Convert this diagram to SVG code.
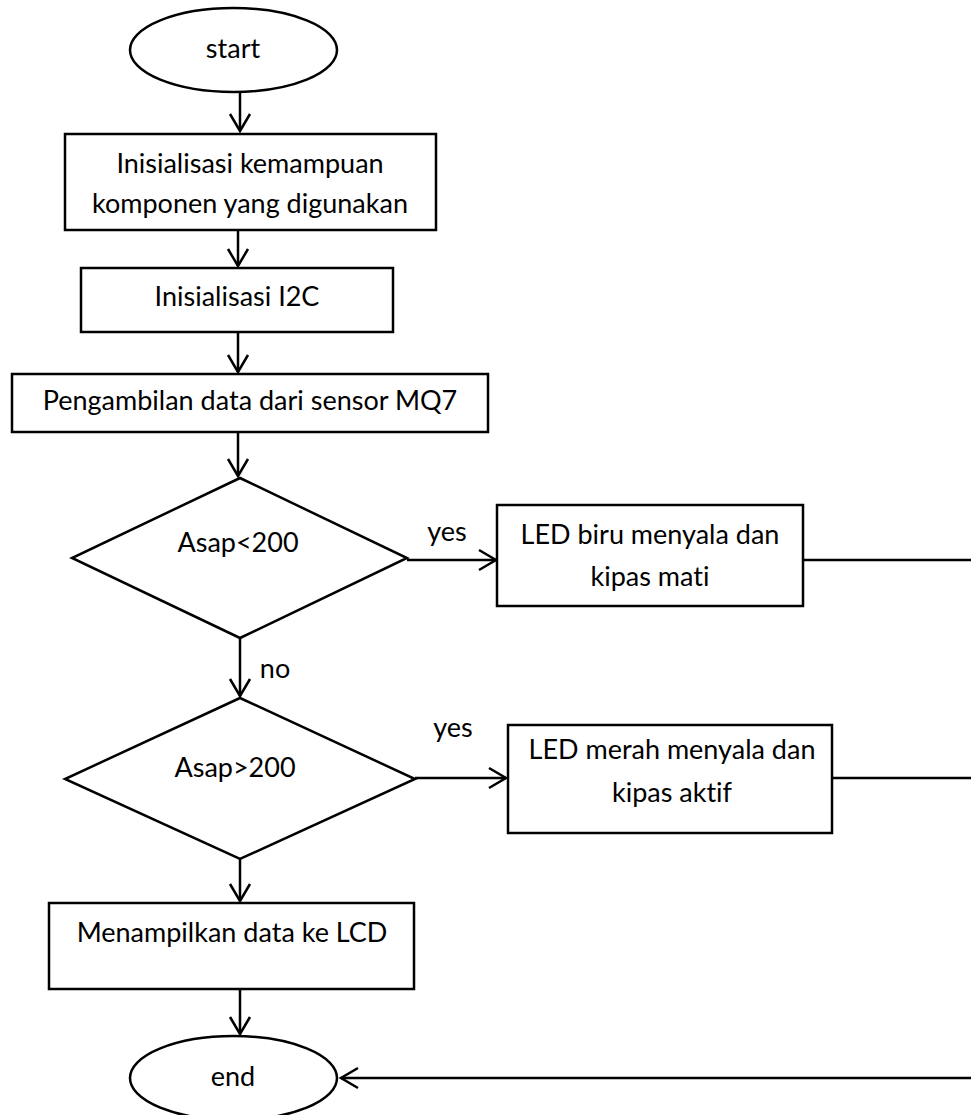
<svg xmlns="http://www.w3.org/2000/svg" width="971" height="1115" viewBox="0 0 971 1115">
<style>
.s{fill:#fff;stroke:#000;stroke-width:2.5}
.t{font-family:Lato,"Liberation Sans",Arial,sans-serif;font-size:27px;fill:#000;text-anchor:middle;font-variant-ligatures:none;font-feature-settings:"liga" 0}
.c{fill:none;stroke:#000;stroke-width:2.5}
</style>
<defs>
<marker id="ah" viewBox="-20 -13 23 26" refX="0" refY="0" markerWidth="23" markerHeight="26" markerUnits="userSpaceOnUse" orient="auto">
<path d="M-17,-10 L0,0 L-17,10" fill="none" stroke="#000" stroke-width="2.5"/>
</marker>
</defs>
<rect width="971" height="1115" fill="#fff"/>
<g id="connectors">
<line class="c" x1="240" y1="92" x2="240" y2="131" marker-end="url(#ah)"/>
<line class="c" x1="238" y1="230" x2="238" y2="266" marker-end="url(#ah)"/>
<line class="c" x1="238" y1="332" x2="238" y2="372" marker-end="url(#ah)"/>
<line class="c" x1="238" y1="432" x2="238" y2="476" marker-end="url(#ah)"/>
<line class="c" x1="407" y1="560" x2="496" y2="560" marker-end="url(#ah)"/>
<line class="c" x1="803" y1="560" x2="971" y2="560"/>
<line class="c" x1="240" y1="638" x2="240" y2="696" marker-end="url(#ah)"/>
<line class="c" x1="415" y1="778" x2="506" y2="778" marker-end="url(#ah)"/>
<line class="c" x1="832" y1="778" x2="971" y2="778"/>
<line class="c" x1="240" y1="859" x2="240" y2="901" marker-end="url(#ah)"/>
<line class="c" x1="240" y1="989" x2="240" y2="1034" marker-end="url(#ah)"/>
<line class="c" x1="971" y1="1078" x2="341" y2="1078" marker-end="url(#ah)"/>
<text class="t" x="447" y="541">yes</text>
<text class="t" x="275" y="678">no</text>
<text class="t" x="453" y="737">yes</text>
</g>
<g id="start">
<ellipse class="s" cx="233.5" cy="50" rx="103.5" ry="42"/>
<text class="t" x="233" y="58">start</text>
</g>
<g id="init-komponen">
<rect class="s" x="65" y="134" width="371" height="96"/>
<text class="t" x="250" y="173">Inisialisasi kemampuan</text>
<text class="t" x="250" y="213">komponen yang digunakan</text>
</g>
<g id="init-i2c">
<rect class="s" x="81" y="268" width="312" height="64"/>
<text class="t" x="237" y="306">Inisialisasi I2C</text>
</g>
<g id="ambil-data">
<rect class="s" x="12" y="374" width="476" height="58"/>
<text class="t" x="250" y="410">Pengambilan data dari sensor MQ7</text>
</g>
<g id="asap-kurang">
<polygon class="s" points="240,478 407,558 240,638 72,558"/>
<text class="t" x="238" y="552">Asap&lt;200</text>
</g>
<g id="led-biru">
<rect class="s" x="497" y="505" width="306" height="101"/>
<text class="t" x="650" y="544">LED biru menyala dan</text>
<text class="t" x="650" y="586">kipas mati</text>
</g>
<g id="asap-lebih">
<polygon class="s" points="240,698 415,779 240,859 65,779"/>
<text class="t" x="235" y="777">Asap&gt;200</text>
</g>
<g id="led-merah">
<rect class="s" x="508" y="725" width="324" height="108"/>
<text class="t" x="672" y="759">LED merah menyala dan</text>
<text class="t" x="672" y="802">kipas aktif</text>
</g>
<g id="tampil-lcd">
<rect class="s" x="49" y="903" width="365" height="86"/>
<text class="t" x="232" y="942">Menampilkan data ke LCD</text>
</g>
<g id="end">
<ellipse class="s" cx="233.5" cy="1078" rx="103.5" ry="42"/>
<text class="t" x="233" y="1086">end</text>
</g>
</svg>
